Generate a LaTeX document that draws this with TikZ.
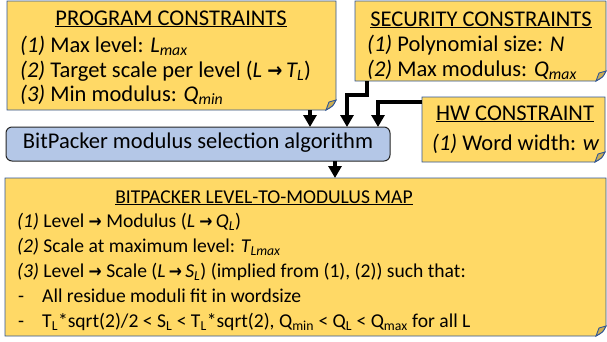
\documentclass[tikz,border=0pt]{standalone}
\usepackage{fontspec}
\setmainfont{Carlito}
\newfontfamily\arrfont{DejaVu Sans}
\usetikzlibrary{arrows.meta,calc}
\definecolor{noteyellow}{HTML}{FFD966}
\definecolor{notefold}{HTML}{CCAE52}
\definecolor{noteline}{HTML}{2F5597}
\definecolor{algfill}{HTML}{B4C7E7}
\definecolor{algline}{HTML}{262626}
\newcommand{\myarr}{{\arrfont\bfseries\scalebox{0.8}[0.9]{→}}}
\newcommand{\sub}[1]{\textsubscript{#1}}
\begin{document}
\begin{tikzpicture}[x=1pt,y=-1pt,
  area/.style={anchor=north west, inner sep=0pt, outer sep=0pt},
  txt/.style={anchor=base west, inner sep=0pt, font=\fontsize{22.5}{26}\selectfont},
  ttl/.style={anchor=base, inner sep=0pt, font=\fontsize{22.5}{26}\selectfont},
  mtxt/.style={anchor=base west, inner sep=0pt, font=\fontsize{19.6}{24}\selectfont},
  mttl/.style={anchor=base, inner sep=0pt, font=\fontsize{19.6}{24}\selectfont},
  flow/.style={line width=4pt, -{Triangle[width=13pt,length=12pt]}}
]
\useasboundingbox (0,0) rectangle (607,341);
% note boxes (named areas)
\node[area, minimum width=329pt, minimum height=109pt] (prog) at (7,1) {};
\node[area, minimum width=251pt, minimum height=80pt] (sec) at (355,1) {};
\node[area, minimum width=183pt, minimum height=65pt] (hw) at (422,97) {};
\node[area, minimum width=601pt, minimum height=158pt] (map) at (5,178) {};
\foreach \n in {prog,sec,hw,map}{
  \filldraw[fill=noteyellow, draw=noteline, line width=0.9pt]
    (\n.north west) -- (\n.north east) -- ([yshift=10pt]\n.south east)
    .. controls ([xshift=-3pt,yshift=4pt]\n.south east) .. ([xshift=-10pt]\n.south east)
    -- (\n.south west) -- cycle;
  \filldraw[fill=notefold, draw=noteline, line width=0.9pt]
    ([yshift=10pt]\n.south east) -- ([xshift=-7pt,yshift=8pt]\n.south east)
    -- ([xshift=-10pt]\n.south east)
    .. controls ([xshift=-3pt,yshift=4pt]\n.south east) .. ([yshift=10pt]\n.south east) -- cycle;
}
% algorithm box
\node[area, minimum width=384pt, minimum height=34pt, rounded corners=6pt,
      fill=algfill, draw=algline, line width=1pt] (alg) at (6,127) {};
\node[inner sep=0pt, font=\fontsize{22.5}{26}\selectfont] (algtxt) at ([yshift=1pt]alg.center) {BitPacker modulus selection algorithm};
% program constraints
\node[ttl] (pt) at (171,25) {\underline{PROGRAM CONSTRAINTS}};
\node[txt] (p1) at (20,52) {\textit{(1)} Max level: \textit{L\sub{max}}};
\node[txt] (p2) at (20,77) {\textit{(2)} Target scale per level (\textit{L} \myarr\,\textit{T\sub{L}})};
\node[txt] (p3) at (20,101) {\textit{(3)} Min modulus: \textit{Q\sub{min}}};
% security constraints
\node[ttl] (st) at (481,26) {\underline{SECURITY CONSTRAINTS}};
\node[txt] (s1) at (367,51) {\textit{(1)} Polynomial size: \textit{N}};
\node[txt] (s2) at (367,76) {\textit{(2)} Max modulus: \textit{Q\sub{max}}};
% hw constraint
\node[ttl] (ht) at (515,120) {\underline{HW CONSTRAINT}};
\node[txt] (h1) at (432,150) {\textit{(1)} Word width: \textit{w}};
% map
\node[mttl] (mt) at (264,203) {\underline{BITPACKER LEVEL-TO-MODULUS MAP}};
\node[mtxt] (m1) at (17,227) {\textit{(1)} Level \myarr\ Modulus (\textit{L} \myarr\,\textit{Q\sub{L}})};
\node[mtxt] (m2) at (17,252) {\textit{(2)} Scale at maximum level: \textit{T\sub{Lmax}}};
\node[mtxt] (m3) at (17,277) {\textit{(3)} Level \myarr\ Scale (\textit{L}\,\myarr\,\textit{S\sub{L}}) (implied from (1), (2)) such that:};
\node[mtxt] (d1) at (18,302) {-};
\node[mtxt] (m4) at (42,302) {All residue moduli fit in wordsize};
\node[mtxt] (d2) at (18,327) {-};
\node[mtxt] (m5) at (42,327) {T\sub{L}*sqrt(2)/2 < S\sub{L} < T\sub{L}*sqrt(2), Q\sub{min} < Q\sub{L} < Q\sub{max} for all L};
% connectors
\draw[flow] ([xshift=303pt]prog.south west) -- ([xshift=304pt]alg.north west);
\draw[flow] ([xshift=12pt]sec.south west) -- ++(0,14) -| ([xshift=341pt]alg.north west);
\draw[flow] ([yshift=-5pt]hw.north west) -| ([xshift=372pt]alg.north west);
\draw[flow] ([xshift=329pt]alg.south west) -- ([xshift=330pt]map.north west);
\end{tikzpicture}
\end{document}
